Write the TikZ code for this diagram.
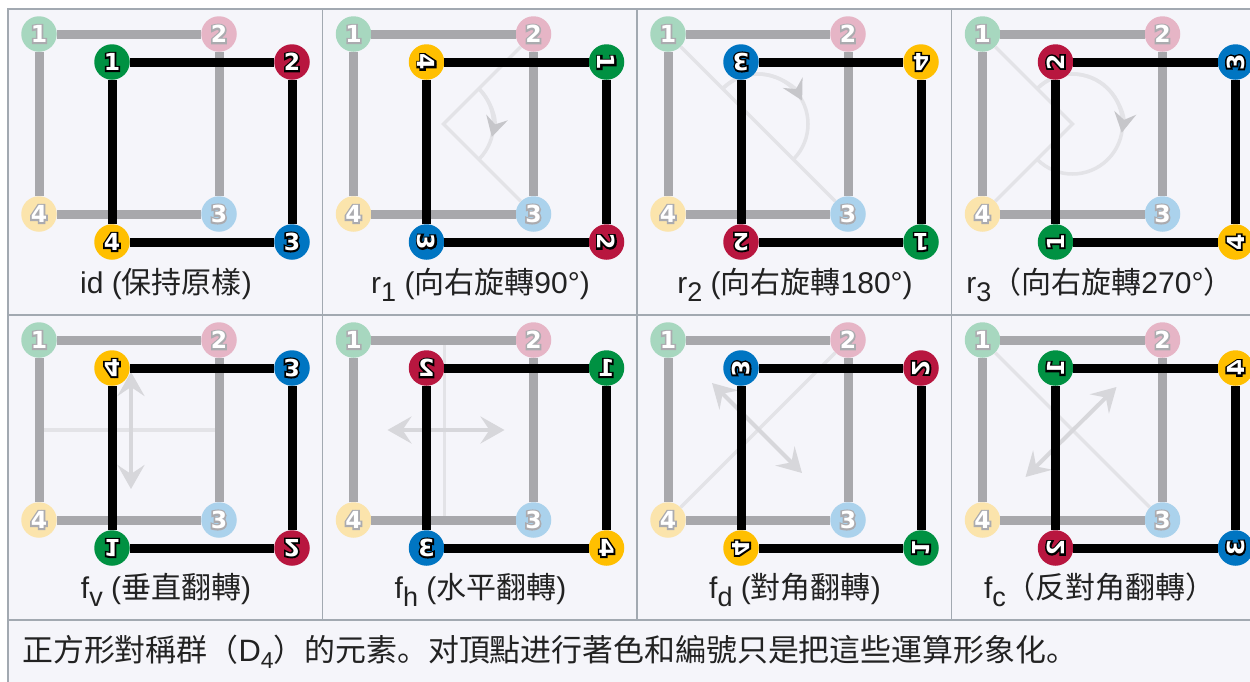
\documentclass[tikz,border=0pt]{standalone}
\usepackage{fontspec}
\setmainfont{Liberation Sans}
\newfontfamily\cjk{Noto Sans CJK SC}
\newfontfamily\dvfont{DejaVu Sans Bold}
\newfontfamily\dvfat{DejaVu Sans Bold}[FakeBold=14]
\usetikzlibrary{arrows.meta}

\definecolor{bg}{HTML}{F5F5FA}
\definecolor{bd}{HTML}{A2A9B1}
\definecolor{gline}{HTML}{A8A8AC}
\definecolor{c1}{HTML}{009142}
\definecolor{c2}{HTML}{B8163F}
\definecolor{c3}{HTML}{0075C2}
\definecolor{c4}{HTML}{FFBF00}
\definecolor{l1}{HTML}{A7D7BF}
\definecolor{l2}{HTML}{E6B5C6}
\definecolor{l3}{HTML}{ABD2EC}
\definecolor{l4}{HTML}{FBE4AC}
\definecolor{fadeol}{HTML}{ABABAF}
\definecolor{faint}{HTML}{E3E3E7}
\definecolor{farrow}{HTML}{D7D7DB}
\definecolor{arcarrow}{HTML}{C6C6CA}
\definecolor{txt}{HTML}{222222}

% outlined digit: an emboldened copy in the outline colour under a white copy
\newcommand\outl[2]{\rlap{\dvfat\color{#1}#2}\textcolor{white}{#2}}

\newcommand\Tid[1]{#1}
\newcommand\Tra[1]{\rotatebox{-90}{#1}}
\newcommand\Trb[1]{\rotatebox{180}{#1}}
\newcommand\Trc[1]{\rotatebox{90}{#1}}
\newcommand\Tfv[1]{\scalebox{1}[-1]{#1}}
\newcommand\Tfh[1]{\scalebox{-1}[1]{#1}}
\newcommand\Tfd[1]{\rotatebox{90}{\scalebox{1}[-1]{#1}}}
\newcommand\Tfc[1]{\rotatebox{-90}{\scalebox{1}[-1]{#1}}}

\newcommand\sbx[1]{\raisebox{-8pt}{\fontsize{27}{27}\selectfont #1}}
\newcommand\csbx[1]{\raisebox{-7pt}{\fontsize{23}{23}\selectfont #1}}

\tikzset{
  vtx/.style={circle, minimum size=35.5pt, inner sep=0pt,
    font=\dvfont\fontsize{23.5}{23.5}\selectfont},
  lsq/.style={draw=gline, line width=9pt},
  dsq/.style={draw=black, line width=9pt},
  lab/.style={anchor=base, text=txt, inner sep=0pt, font=\fontsize{30}{34}\selectfont},
  fline/.style={draw=faint, line width=3.5pt},
  arcarr/.style={draw=faint, line width=3.5pt,
    -{Stealth[length=20pt,width=22pt,inset=7pt,color=arcarrow]}},
  farr/.style={draw=farrow, line width=4pt,
    {Stealth[length=24pt,width=27pt,inset=9pt]}-{Stealth[length=24pt,width=27pt,inset=9pt]}},
  grid/.style={draw=bd, line width=1.2pt}
}

\newcommand\lightsq[1]{%
  \node[vtx, fill=l1] (#1a) at (31,-25) {\outl{fadeol}{1}};
  \node[vtx, fill=l2] (#1b) at (211,-25) {\outl{fadeol}{2}};
  \node[vtx, fill=l3] (#1c) at (211,-205) {\outl{fadeol}{3}};
  \node[vtx, fill=l4] (#1d) at (31,-205) {\outl{fadeol}{4}};
  \coordinate (#1o) at (121,-115);}
\newcommand\lightlines[1]{\draw[lsq] (#1a) -- (#1b) -- (#1c) -- (#1d) -- (#1a);}
\newcommand\darksq[6]{%
  \node[vtx, fill=c#3] (#1A) at (104,-53) {#2{\outl{black}{#3}}};
  \node[vtx, fill=c#4] (#1B) at (284,-53) {#2{\outl{black}{#4}}};
  \node[vtx, fill=c#5] (#1C) at (284,-233) {#2{\outl{black}{#5}}};
  \node[vtx, fill=c#6] (#1D) at (104,-233) {#2{\outl{black}{#6}}};
  \draw[dsq] (#1A) -- (#1B) -- (#1C) -- (#1D) -- (#1A);}

\begin{document}
\begin{tikzpicture}[x=1pt,y=1pt]
\useasboundingbox (0,0) rectangle (1250,-681);
\fill[white] (0,0) rectangle (1250,-681);
\fill[bg] (8,-9) rectangle (1252,-683);
% table grid
\draw[grid] (7.4,-9) -- (1252,-9);
\draw[grid] (7.4,-315) -- (1252,-315);
\draw[grid] (7.4,-620) -- (1252,-620);
\draw[grid] (8,-9) -- (8,-683);
\draw[grid] (322.5,-9) -- (322.5,-620);
\draw[grid] (637,-9) -- (637,-620);
\draw[grid] (951.5,-9) -- (951.5,-620);

% ---- id
\begin{scope}[shift={(8,-9)}]
  \lightsq{p}
  \lightlines{p}
  \darksq{p}{\Tid}{1}{2}{3}{4}
  \node[lab] (pt) at (158,-284) {id ({\cjk 保持原樣})};
\end{scope}
% ---- r1
\begin{scope}[shift={(322.5,-9)}]
  \lightsq{q}
  \draw[fline] (qb) -- (qo) -- (qc);
  \draw[fline] (qo) ++(45:50) arc[start angle=45,end angle=-45,radius=50];
  \draw[arcarr] (qo) ++(45:50) arc[start angle=45,end angle=-15,radius=50];
  \lightlines{q}
  \darksq{q}{\Tra}{4}{1}{2}{3}
  \node[lab] (qt) at (158,-284) {r\sbx{1} ({\cjk 向右旋轉}90°)};
\end{scope}
% ---- r2
\begin{scope}[shift={(637,-9)}]
  \lightsq{r}
  \draw[fline] (ra) -- (rc);
  \draw[fline] (ro) ++(135:50) arc[start angle=135,end angle=-45,radius=50];
  \draw[arcarr] (ro) ++(135:50) arc[start angle=135,end angle=28,radius=50];
  \lightlines{r}
  \darksq{r}{\Trb}{3}{4}{1}{2}
  \node[lab] (rt) at (158,-284) {r\sbx{2} ({\cjk 向右旋轉}180°)};
\end{scope}
% ---- r3
\begin{scope}[shift={(951.5,-9)}]
  \lightsq{s}
  \draw[fline] (sa) -- (so) -- (sd);
  \draw[fline] (so) ++(135:50) arc[start angle=135,end angle=-135,radius=50];
  \draw[arcarr] (so) ++(135:50) arc[start angle=135,end angle=-10,radius=50];
  \lightlines{s}
  \darksq{s}{\Trc}{2}{3}{4}{1}
  \node[lab] (st) at (148.5,-284) {r\sbx{3}{\cjk （向右旋轉}270°{\cjk ）}};
\end{scope}
% ---- fv
\begin{scope}[shift={(8,-315)}]
  \lightsq{u}
  \coordinate (uw) at (31,-115);
  \coordinate (ue) at (211,-115);
  \coordinate (un) at (123,-57);
  \coordinate (us) at (123,-174);
  \draw[fline] (uw) -- (ue);
  \draw[farr] (un) -- (us);
  \lightlines{u}
  \darksq{u}{\Tfv}{4}{3}{2}{1}
  \node[lab] (ut) at (158,-283) {f\sbx{v} ({\cjk 垂直翻轉})};
\end{scope}
% ---- fh
\begin{scope}[shift={(322.5,-315)}]
  \lightsq{v}
  \coordinate (vn) at (122,-25);
  \coordinate (vs) at (122,-205);
  \coordinate (vw) at (65,-115);
  \coordinate (ve) at (182,-115);
  \draw[fline] (vn) -- (vs);
  \draw[farr] (vw) -- (ve);
  \lightlines{v}
  \darksq{v}{\Tfh}{2}{1}{4}{3}
  \node[lab] (vt) at (158,-283) {f\sbx{h} ({\cjk 水平翻轉})};
\end{scope}
% ---- fd
\begin{scope}[shift={(637,-315)}]
  \lightsq{w}
  \coordinate (wp) at (75,-68);
  \coordinate (wq) at (165,-158);
  \draw[fline] (wd) -- (wb);
  \draw[farr] (wp) -- (wq);
  \lightlines{w}
  \darksq{w}{\Tfd}{3}{2}{1}{4}
  \node[lab] (wt) at (158,-283) {f\sbx{d} ({\cjk 對角翻轉})};
\end{scope}
% ---- fc
\begin{scope}[shift={(951.5,-315)}]
  \lightsq{z}
  \coordinate (zp) at (165,-72);
  \coordinate (zq) at (74,-162);
  \draw[fline] (za) -- (zc);
  \draw[farr] (zp) -- (zq);
  \lightlines{z}
  \darksq{z}{\Tfc}{1}{4}{3}{2}
  \node[lab] (zt) at (148.5,-283) {f\sbx{c}{\cjk （反對角翻轉）}};
\end{scope}

% caption
\node[anchor=base west, text=txt, inner sep=0pt, font=\fontsize{30.9}{34}\selectfont] (cap) at (22,-661)
  {{\cjk 正方形對稱群（}D\csbx{4}{\cjk ）的元素。对頂點进行著色和編號只是把這些運算形象化。}};
\end{tikzpicture}
\end{document}
